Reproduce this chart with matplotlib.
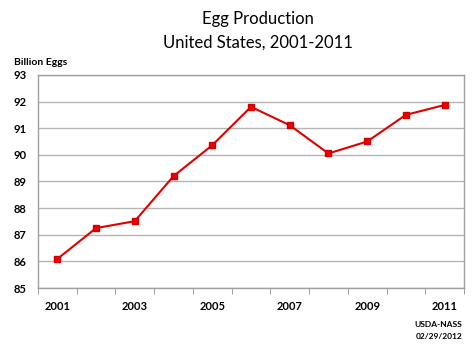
import numpy as np
import matplotlib
matplotlib.use('Agg')
import matplotlib.pyplot as plt

plt.rcParams['font.family'] = ['Lato', 'DejaVu Sans']

# 数据
years = [2001, 2002, 2003, 2004, 2005, 2006, 2007, 2008, 2009, 2010, 2011]
eggs = [86.09, 87.25, 87.51, 89.2, 90.36, 91.8, 91.11, 90.05, 90.5, 91.5, 91.87]
yticks = [85, 86, 87, 88, 89, 90, 91, 92, 93]

fig = plt.figure(figsize=(4.74, 3.45), dpi=100)
ax = fig.add_axes([0.080, 0.165, 0.899, 0.618])

x = np.arange(len(years))
ax.plot(x, eggs, color='#e00000', lw=1.5, marker='s', ms=4.5,
        markerfacecolor='#f00000', markeredgecolor='#d00000', zorder=3)

ax.set_xlim(-0.5, len(years) - 0.5)
ax.set_ylim(85, 93)
ax.set_yticks(yticks)
ax.set_yticklabels([str(v) for v in yticks], fontsize=8, fontweight='bold')
ax.set_xticks(x[::2])
ax.set_xticklabels([str(y) for y in years[::2]], fontsize=8, fontweight='bold')
ax.set_xticks(np.arange(len(years) + 1) - 0.5, minor=True)
ax.tick_params(axis='x', which='major', length=0, pad=9)
ax.tick_params(axis='x', which='minor', length=4, color='#909090', direction='out')
ax.tick_params(axis='y', length=0, pad=8)

ax.yaxis.grid(True, color='#b4b4b4', lw=1)
ax.set_axisbelow(True)
for s in ax.spines.values():
    s.set_color('#a0a0a0')
    s.set_linewidth(1)

fig.text(0.545, 0.945, 'Egg Production', ha='center', va='center', fontsize=12)
fig.text(0.545, 0.875, 'United States, 2001-2011', ha='center', va='center', fontsize=12)
fig.text(0.03, 0.82, 'Billion Eggs', ha='left', va='center', fontsize=7.5, fontweight='bold')
fig.text(0.975, 0.06, 'USDA-NASS', ha='right', va='center', fontsize=6, fontweight='bold')
fig.text(0.975, 0.025, '02/29/2012', ha='right', va='center', fontsize=6, fontweight='bold')

fig.savefig('out.png', dpi=100)
